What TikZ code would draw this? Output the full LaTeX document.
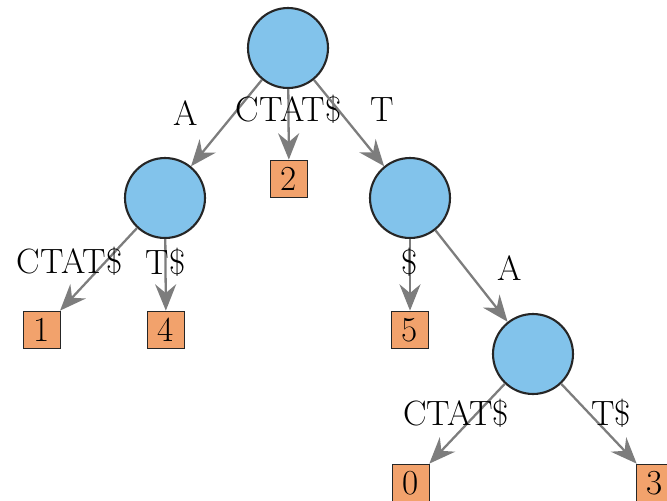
\documentclass[tikz,border=0pt]{standalone}
\usetikzlibrary{arrows.meta}

\definecolor{nodeblue}{RGB}{130,195,235}
\definecolor{leaforange}{RGB}{242,162,108}
\definecolor{edgegray}{RGB}{125,125,125}

\begin{document}
\begin{tikzpicture}[
    x=0.02cm, y=-0.02cm,
    font=\fontsize{20}{22}\selectfont,
    internal/.style = {
      circle, draw=black!85, line width=1.2pt,
      fill=nodeblue, minimum size=1.6cm
    },
    leaf/.style = {
      rectangle, draw=black!85, line width=1pt, fill=leaforange,
      minimum width=0.74cm, minimum height=0.74cm, inner sep=0pt
    },
    branch/.style = {
      draw=edgegray, line width=1.3pt,
      -{Stealth[length=15pt, width=12pt, inset=5pt]}
    },
    lbl/.style = {inner sep=0pt}
  ]
  \useasboundingbox (0,0) rectangle (667,501);

  % internal nodes
  \node (root) [internal] at (288,48)  {};
  \node (u)    [internal] at (165,198) {};
  \node (v)    [internal] at (410,198) {};
  \node (w)    [internal] at (533,354) {};

  % leaves
  \node (l2) [leaf] at (289,179) {2};
  \node (l1) [leaf] at (42,330)  {1};
  \node (l4) [leaf] at (166,330) {4};
  \node (l5) [leaf] at (410,330) {5};
  \node (l0) [leaf] at (411,483) {0};
  \node (l3) [leaf] at (655,483) {3};

  \draw [branch] (root) -- node [lbl, xshift=-0.82cm, yshift=0.2cm]  {A} (u);
  \draw [branch] (root) -- node [lbl, yshift=0.3cm]                  {CTAT\$} (l2);
  \draw [branch] (root) -- node [lbl, xshift=0.66cm, yshift=0.26cm]  {T} (v);

  \draw [branch] (u) -- node [lbl, xshift=-0.58cm, yshift=0.16cm] {CTAT\$} (l1);
  \draw [branch] (u) -- node [lbl, yshift=0.26cm]                  {T\$} (l4);

  \draw [branch] (v) -- node [lbl, yshift=0.26cm]                  {\$} (l5);
  \draw [branch] (v) -- node [lbl, xshift=0.77cm, yshift=0.16cm]  {A} (w);

  \draw [branch] (w) -- node [lbl, xshift=-0.22cm, yshift=0.2cm] {CTAT\$} (l0);
  \draw [branch] (w) -- node [lbl, xshift=0.24cm, yshift=0.2cm]  {T\$} (l3);
\end{tikzpicture}
\end{document}
